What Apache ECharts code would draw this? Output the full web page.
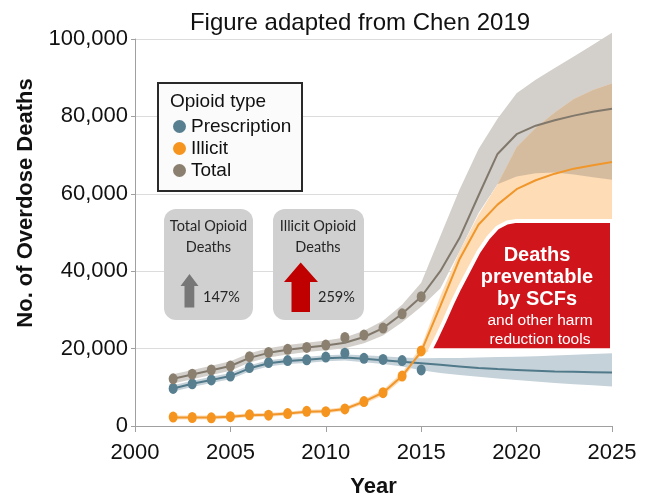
<!DOCTYPE html>
<html><head><meta charset="utf-8">
<script src="https://cdn.jsdelivr.net/npm/echarts@6/dist/echarts.min.js"></script>
<style>html,body{margin:0;padding:0;background:#fff}#c{width:648px;height:497px}</style>
</head><body><div id="c"></div>
<script>
// ---- data (values in thousands of deaths, scaled by K below) ----
const obsYears = [2002,2003,2004,2005,2006,2007,2008,2009,2010,2011,2012,2013,2014,2015];
const prescriptionObs = [9.7,10.9,11.9,12.9,15.1,16.4,16.9,17.1,17.8,18.8,17.5,17.2,16.9,14.5];
const illicitObs      = [2.3,2.2,2.1,2.4,2.9,2.8,3.2,3.8,3.7,4.4,6.3,8.6,12.9,19.4];
const totalObs        = [12.2,13.4,14.5,15.5,17.9,19.0,19.8,20.3,20.9,22.9,23.5,25.3,29.0,33.4];

const modelYears = [2002,2003,2004,2005,2006,2007,2008,2009,2010,2011,2012,2013,2014,2015,2016,2017,2018,2019,2020,2021,2022,2023,2024,2025];
const totalModel  = [12.2,13.3,14.4,15.5,17.6,18.9,19.7,20.3,20.8,21.5,23.0,25.3,29.0,33.4,40.0,48.5,59.5,70.3,75.4,77.6,79.0,80.2,81.2,82.0];
const totalUpper  = [13.4,14.5,15.6,16.7,18.8,20.1,20.9,21.5,22.1,22.9,24.6,27.2,31.3,37.0,49.0,61.0,71.5,79.4,86.0,89.5,92.5,95.5,98.5,101.6];
const totalLower  = [11.0,12.1,13.2,14.3,16.4,17.7,18.5,19.1,19.6,20.1,21.4,23.4,26.8,30.8,35.5,45.0,55.0,62.5,64.5,65.3,65.5,65.0,64.3,63.6];
const illicitModel = [2.2,2.2,2.2,2.4,2.8,2.9,3.2,3.7,3.8,4.4,6.3,8.6,12.9,19.2,31.0,43.0,52.0,57.2,61.2,63.5,65.2,66.5,67.4,68.2];
const illicitUpper = [2.7,2.7,2.7,2.9,3.3,3.4,3.7,4.2,4.3,4.9,6.9,9.3,13.8,20.5,33.5,45.0,54.5,62.5,72.0,77.0,81.0,84.5,86.8,88.5];
const illicitLower = [1.7,1.7,1.7,1.9,2.3,2.4,2.7,3.2,3.3,3.9,5.7,7.9,12.0,18.3,21.0,24.0,26.0,28.0,30.0,30.0,30.0,30.0,30.0,30.0];
const prescModel = [9.7,10.9,11.9,12.9,14.9,16.2,16.8,17.1,17.5,17.7,17.4,17.0,16.6,16.2,15.8,15.4,15.0,14.7,14.5,14.3,14.1,14.0,13.9,13.8];
const prescUpper = [10.5,11.7,12.7,13.7,15.7,17.0,17.6,17.9,18.3,18.5,18.3,18.0,17.7,17.5,17.6,17.6,17.7,17.8,17.9,18.0,18.2,18.4,18.6,18.8];
const prescLower = [8.9,10.1,11.1,12.1,14.1,15.4,16.0,16.3,16.7,16.9,16.5,16.0,15.4,14.4,13.7,13.2,12.7,12.3,11.9,11.5,11.1,10.8,10.5,10.2];

// region of deaths preventable by SCFs
const scfYears  = [2015.47,2015.8,2016.2,2016.6,2017.0,2017.5,2018.0,2018.5,2019.0,2019.5,2020.0,2022.0,2025.0];
const scfTop    = [19.6,22.8,27.0,31.5,35.6,40.3,45.0,48.6,51.3,52.6,53.0,53.0,53.0];
const scfBottom = [19.6,19.6,19.6,19.6,19.6,19.6,19.6,19.6,19.6,19.6,19.6,19.6,19.6];

const xTicks = [2000,2005,2010,2015,2020,2025];
const yTicks = [0,20000,40000,60000,80000,100000];

const K = 1000;
const pairs = (xs, ys) => xs.map((x, i) => [x, ys[i] * K]);

function band(xs, lo, hi, color, z, stroke, lw) {
  return {
    type: 'custom', z: z, silent: true, clip: false,
    data: [[xs[0], lo[0] * K]],
    renderItem: function (params, api) {
      const pts = [];
      for (let i = 0; i < xs.length; i++) pts.push(api.coord([xs[i], hi[i] * K]));
      for (let i = xs.length - 1; i >= 0; i--) pts.push(api.coord([xs[i], lo[i] * K]));
      return { type: 'polygon', shape: { points: pts },
        style: { fill: color, stroke: stroke || null, lineWidth: lw || 0, lineJoin: 'round' } };
    }
  };
}

// overlap of total and illicit uncertainty bands
const ovYears = [], ovLo = [], ovHi = [];
modelYears.forEach((y, i) => {
  if (y >= 2019) { ovYears.push(y); ovLo.push(totalLower[i]); ovHi.push(Math.max(illicitUpper[i], totalLower[i])); }
});

const FONT = 'Liberation Sans, Arial, sans-serif';
const BOXFONT = '14.5px Lato, sans-serif';
const chart = echarts.init(document.getElementById('c'), null, { renderer: 'canvas' });

const lineS = (name, ys, color, z) => ({
  type: 'line', name: name, data: pairs(modelYears, ys), showSymbol: false, silent: true, z: z,
  lineStyle: { color: color, width: 2 }, itemStyle: { color: color }
});
const dotS = (name, ys, color) => ({
  type: 'scatter', name: name, data: pairs(obsYears, ys), symbol: 'circle', symbolSize: [9, 11],
  itemStyle: { color: color, opacity: 1 }, z: 8, silent: true
});

chart.setOption({
  animation: false,
  backgroundColor: '#fff',
  grid: { left: 135, right: 36, top: 39, bottom: 71, containLabel: false, outerBoundsMode: 'none' },
  xAxis: {
    type: 'value', min: 2000, max: 2025, interval: 5,
    name: 'Year', nameLocation: 'middle', nameGap: 50,
    nameTextStyle: { fontFamily: FONT, fontSize: 22, fontWeight: 'bold', color: '#111' },
    axisLine: { lineStyle: { color: '#a0a0a0', width: 1 } },
    axisTick: { show: true, length: 6, lineStyle: { color: '#a0a0a0' } },
    axisLabel: { fontFamily: FONT, fontSize: 22, color: '#111', margin: 16,
      formatter: v => xTicks.includes(v) ? String(v) : '' },
    splitLine: { show: false }
  },
  yAxis: {
    type: 'value', min: 0, max: 100000, interval: 20000,
    axisLine: { show: true, lineStyle: { color: '#a0a0a0', width: 1 } },
    axisTick: { show: true, length: 4, lineStyle: { color: '#a0a0a0' } },
    axisLabel: { fontFamily: FONT, fontSize: 22, color: '#111', margin: 7,
      formatter: v => yTicks.includes(v) ? v.toLocaleString('en-US') : '' },
    splitLine: { show: true, lineStyle: { color: '#dcdcdc', width: 1 } }
  },
  legend: {
    data: ['Prescription', 'Illicit', 'Total'], orient: 'vertical', left: 173, top: 117, padding: 0,
    icon: 'circle', itemWidth: 13, itemHeight: 13, itemGap: 3, z: 6, selectedMode: false,
    textStyle: { fontFamily: FONT, fontSize: 19, color: '#111', lineHeight: 19, padding: [0, 0, 0, 0] }
  },
  series: [
    band(modelYears, totalLower, totalUpper, '#d3cfcb', 1),
    band(modelYears, illicitLower, illicitUpper, '#fddcb6', 1.1),
    band(ovYears, ovLo, ovHi, '#d6bc9f', 1.2),
    band(modelYears, prescLower, prescUpper, '#c6d2d9', 1.3),
    band(scfYears, scfBottom, scfTop, '#d0141c', 1.4, '#ffffff', 4),
    lineS('Prescription line', prescModel, '#50798a', 3),
    lineS('Illicit line', illicitModel, '#f0962a', 3.2),
    lineS('Total line', totalModel, '#81786c', 3.1),
    dotS('Prescription', prescriptionObs, '#587f8f'),
    dotS('Illicit', illicitObs, '#f5951f'),
    dotS('Total', totalObs, '#8b8070')
  ],
  graphic: [
    { type: 'text', z: 10, style: { x: 360, y: 23.5, text: 'Figure adapted from Chen 2019', fill: '#111',
      font: '24px ' + FONT, textAlign: 'center', textVerticalAlign: 'middle' } },
    { type: 'text', z: 10, x: 26, y: 203, rotation: Math.PI / 2,
      style: { x: 0, y: 0, text: 'No. of Overdose Deaths', fill: '#111', font: 'bold 22px ' + FONT,
        textAlign: 'center', textVerticalAlign: 'middle' } },
    // legend box
    { type: 'rect', z: 3, shape: { x: 158, y: 83, width: 144, height: 108 },
      style: { fill: '#fbfbfb', stroke: '#2a2a2a', lineWidth: 2 } },
    { type: 'text', z: 6, style: { x: 170, y: 102, text: 'Opioid type', fill: '#111', font: '19px ' + FONT,
      textVerticalAlign: 'middle' } },
    // annotation boxes
    { type: 'rect', z: 3, shape: { x: 164, y: 209, width: 89, height: 111, r: 12 }, style: { fill: '#d0d0d0' } },
    { type: 'rect', z: 3, shape: { x: 273, y: 209, width: 91, height: 111, r: 12 }, style: { fill: '#d0d0d0' } },
    { type: 'text', z: 6, style: { x: 208.5, y: 226.5, text: 'Total Opioid', fill: '#262626', font: BOXFONT, textAlign: 'center', textVerticalAlign: 'middle' } },
    { type: 'text', z: 6, style: { x: 208.5, y: 247, text: 'Deaths', fill: '#262626', font: BOXFONT, textAlign: 'center', textVerticalAlign: 'middle' } },
    { type: 'text', z: 6, style: { x: 318, y: 226.5, text: 'Illicit Opioid', fill: '#262626', font: BOXFONT, textAlign: 'center', textVerticalAlign: 'middle' } },
    { type: 'text', z: 6, style: { x: 318, y: 247, text: 'Deaths', fill: '#262626', font: BOXFONT, textAlign: 'center', textVerticalAlign: 'middle' } },
    { type: 'text', z: 6, style: { x: 203, y: 297, text: '147%', fill: '#262626', font: BOXFONT, textVerticalAlign: 'middle' } },
    { type: 'text', z: 6, style: { x: 318, y: 297, text: '259%', fill: '#262626', font: BOXFONT, textVerticalAlign: 'middle' } },
    { type: 'polygon', z: 5, shape: { points: [[189.5,274],[198.5,286],[194.3,286],[194.3,307.5],[184.5,307.5],[184.5,286],[180.5,286]] },
      style: { fill: '#777777' } },
    { type: 'polygon', z: 5, shape: { points: [[300.7,262.5],[318,282],[310,282],[310,312],[291.5,312],[291.5,282],[284,282]] },
      style: { fill: '#c00000' } },
    // SCF labels
    { type: 'text', z: 10, style: { x: 537, y: 255, text: 'Deaths', fill: '#fff', font: 'bold 20px ' + FONT, textAlign: 'center', textVerticalAlign: 'middle' } },
    { type: 'text', z: 10, style: { x: 537, y: 277, text: 'preventable', fill: '#fff', font: 'bold 20px ' + FONT, textAlign: 'center', textVerticalAlign: 'middle' } },
    { type: 'text', z: 10, style: { x: 537, y: 299, text: 'by SCFs', fill: '#fff', font: 'bold 20px ' + FONT, textAlign: 'center', textVerticalAlign: 'middle' } },
    { type: 'text', z: 10, style: { x: 540, y: 320.5, text: 'and other harm', fill: '#fff', font: '15.5px ' + FONT, textAlign: 'center', textVerticalAlign: 'middle' } },
    { type: 'text', z: 10, style: { x: 540, y: 339.5, text: 'reduction tools', fill: '#fff', font: '15.5px ' + FONT, textAlign: 'center', textVerticalAlign: 'middle' } }
  ]
});
</script>
</body></html>
